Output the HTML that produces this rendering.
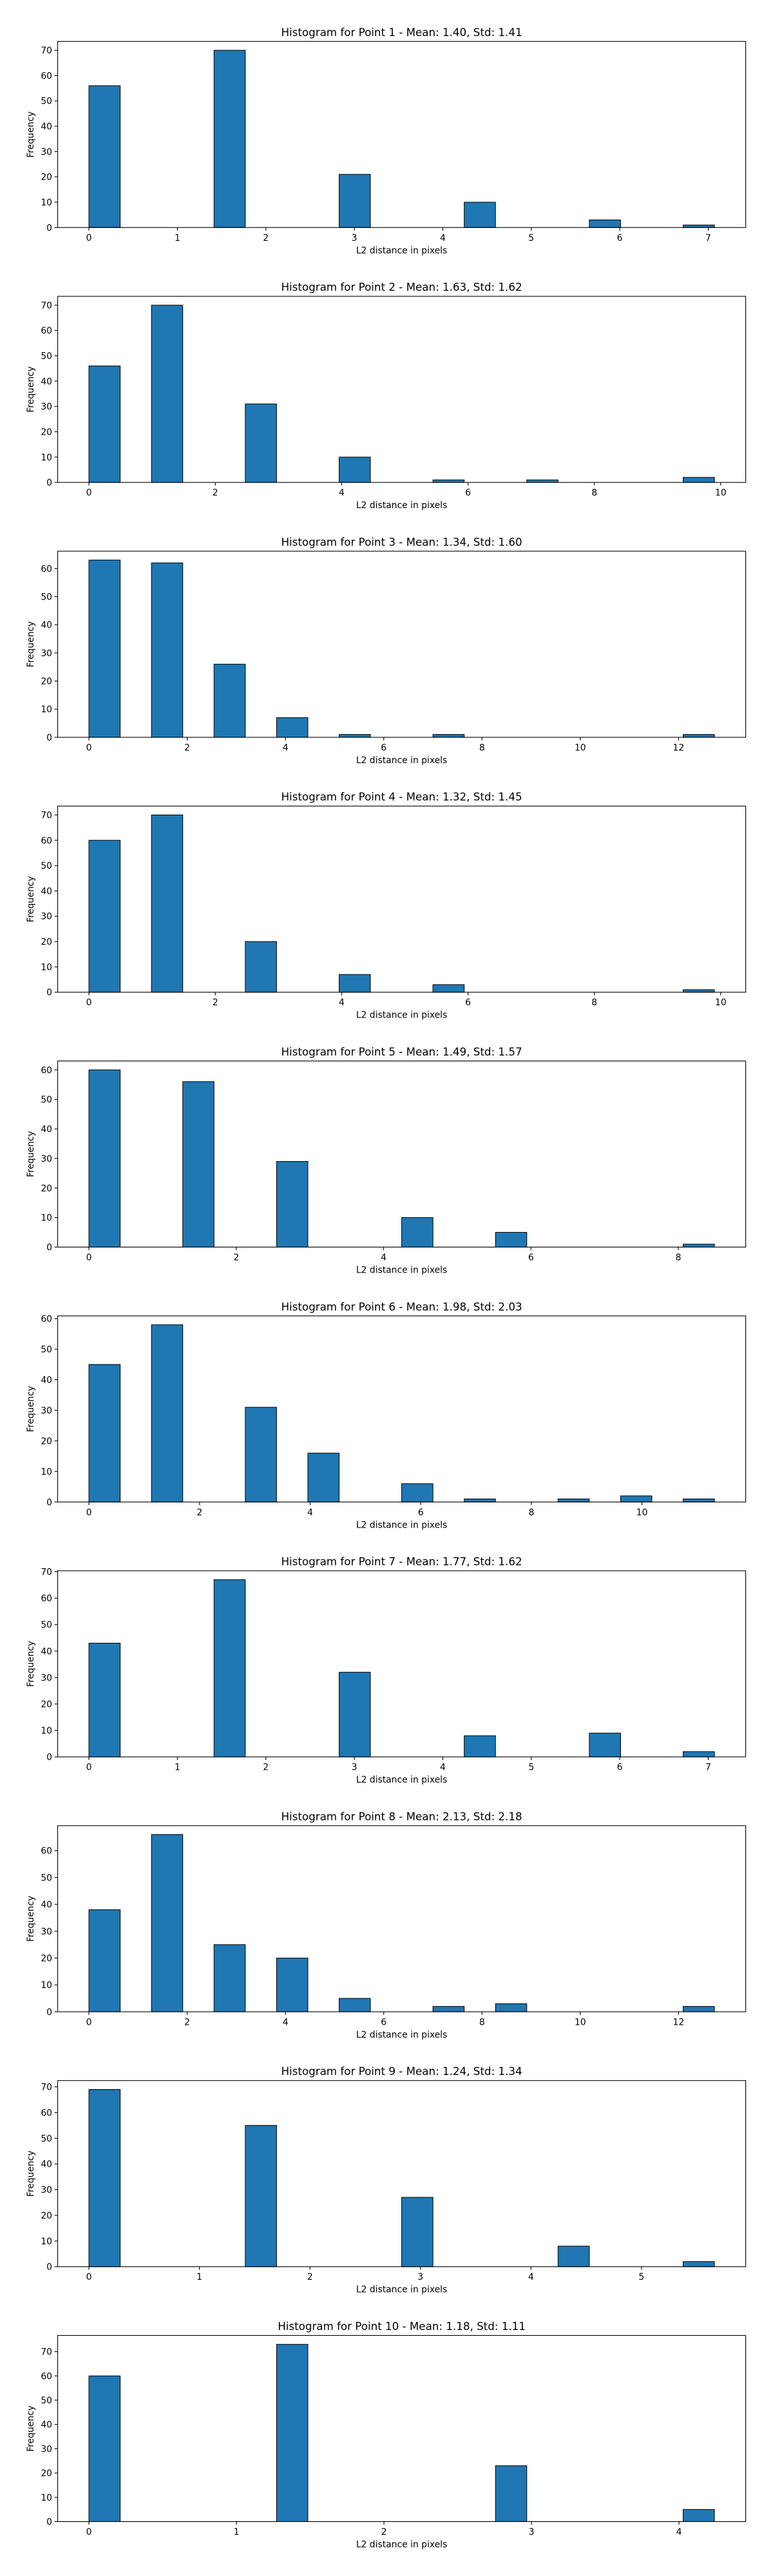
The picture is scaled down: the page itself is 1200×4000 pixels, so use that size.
<!DOCTYPE html>
<html><head><meta charset="utf-8"><style>
html,body{margin:0;padding:0;background:#fff;}
svg{display:block;}
text{font-family:"DejaVu Sans","Liberation Sans",sans-serif;fill:#000;}
</style></head><body>
<svg id="fig" width="1200" height="4000" viewBox="0 0 1200 4000" xmlns="http://www.w3.org/2000/svg"></svg>
<script>
// Per-panel data
const panelTitles = [
 "Histogram for Point 1 - Mean: 1.40, Std: 1.41",
 "Histogram for Point 2 - Mean: 1.63, Std: 1.62",
 "Histogram for Point 3 - Mean: 1.34, Std: 1.60",
 "Histogram for Point 4 - Mean: 1.32, Std: 1.45",
 "Histogram for Point 5 - Mean: 1.49, Std: 1.57",
 "Histogram for Point 6 - Mean: 1.98, Std: 2.03",
 "Histogram for Point 7 - Mean: 1.77, Std: 1.62",
 "Histogram for Point 8 - Mean: 2.13, Std: 2.18",
 "Histogram for Point 9 - Mean: 1.24, Std: 1.34",
 "Histogram for Point 10 - Mean: 1.18, Std: 1.11"
];
const maxDistance = [7.07, 9.90, 12.73, 9.90, 8.49, 11.31, 7.07, 12.73, 5.66, 4.24];
const binIndices = [
 [0,4,8,12,16,19],
 [0,2,5,8,11,14,19],
 [0,2,4,6,8,11,19],
 [0,2,5,8,11,19],
 [0,3,6,10,13,19],
 [0,2,5,7,10,12,15,17,19],
 [0,4,8,12,16,19],
 [0,2,4,6,8,11,13,19],
 [0,5,10,15,19],
 [0,6,13,19]
];
const binCounts = [
 [56,70,21,10,3,1],
 [46,70,31,10,1,1,2],
 [63,62,26,7,1,1,1],
 [60,70,20,7,3,1],
 [60,56,29,10,5,1],
 [45,58,31,16,6,1,1,2,1],
 [43,67,32,8,9,2],
 [38,66,25,20,5,2,3,2],
 [69,55,27,8,2],
 [60,73,23,5]
];
const xTickStep = [1,2,2,2,2,2,1,2,1,1];
const yTickStep = 10;
const nBins = 20;

const NS = "http://www.w3.org/2000/svg";
const svg = document.getElementById('fig');
function el(tag, attrs, parent){
  const e = document.createElementNS(NS, tag);
  for (const k in attrs) e.setAttribute(k, attrs[k]);
  (parent||svg).appendChild(e);
  return e;
}
const AX_L = 89.5, AX_R = 1157.6, AX_H = 289, TOP0 = 64.3, GAP = 395.8;

for (let p = 0; p < panelTitles.length; p++) {
  const top = TOP0 + p * GAP, bottom = top + AX_H;
  const M = maxDistance[p];
  const xmin = -0.05 * M, xmax = 1.05 * M;
  const ymaxData = Math.max(...binCounts[p]);
  const ymax = ymaxData * 1.05;
  const xs = v => AX_L + (v - xmin) / (xmax - xmin) * (AX_R - AX_L);
  const ys = v => bottom - v / ymax * AX_H;

  const g = el('g', {});
  
  

  const title = el('text', {x: (AX_L + AX_R) / 2, y: top - 8.5, 'text-anchor': 'middle', 'font-size': '16.7'}, g);
  title.textContent = panelTitles[p];
  
  

  const bw = M / nBins;
  for (let i = 0; i < binIndices[p].length; i++) {
    const b = binIndices[p][i], c = binCounts[p][i];
    const x0 = xs(b * bw), x1 = xs((b + 1) * bw);
    const r = el('rect', {x: x0, y: ys(c), width: x1 - x0, height: ys(0) - ys(c), fill: '#1f77b4', stroke: '#000', 'stroke-width': '1'}, g);
    
    
  }

  const frame = el('rect', {x: AX_L, y: top, width: AX_R - AX_L, height: AX_H, fill: 'none', stroke: '#000', 'stroke-width': '1.1'}, g);
  
  

  const st = xTickStep[p];
  for (let t = 0; t <= xmax + 1e-9; t += st) {
    const x = xs(t);
    el('line', {x1: x, x2: x, y1: bottom, y2: bottom + 4.9, stroke: '#000', 'stroke-width': '1.1'}, g);
    const tl = el('text', {x: x, y: bottom + 20.5, 'text-anchor': 'middle', 'font-size': '13.9'}, g);
    tl.textContent = String(t);
    
    
  }
  for (let t = 0; t <= ymax + 1e-9; t += yTickStep) {
    const y = ys(t);
    el('line', {x1: AX_L, x2: AX_L - 4.9, y1: y, y2: y, stroke: '#000', 'stroke-width': '1.1'}, g);
    const tl = el('text', {x: AX_L - 8.5, y: y + 5, 'text-anchor': 'end', 'font-size': '13.9'}, g);
    tl.textContent = String(t);
    
    
  }
  const xl = el('text', {x: (AX_L + AX_R) / 2, y: bottom + 40, 'text-anchor': 'middle', 'font-size': '13.9'}, g);
  xl.textContent = 'L2 distance in pixels';
  
  
  const cy = top + AX_H / 2;
  const yl = el('text', {x: 52, y: cy, 'text-anchor': 'middle', 'font-size': '13.9', transform: 'rotate(-90 52 ' + cy + ')'}, g);
  yl.textContent = 'Frequency';
  
  
}
</script>
</body></html>
